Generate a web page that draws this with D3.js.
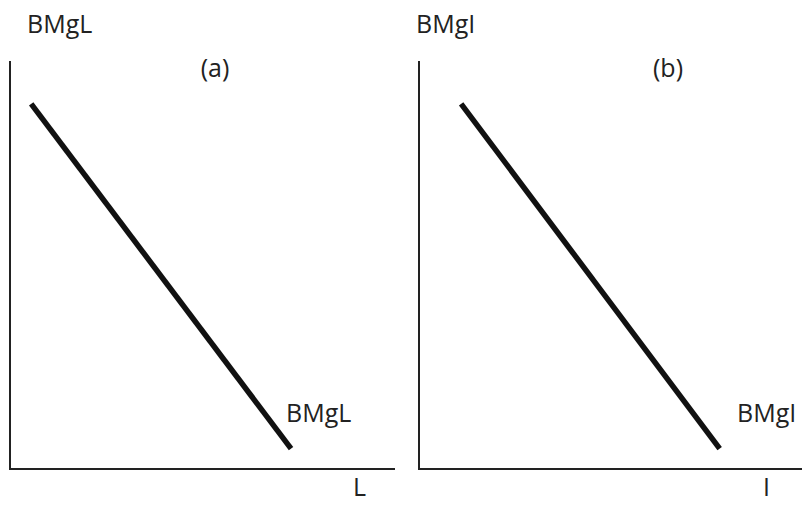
<!DOCTYPE html>
<html><head><meta charset="utf-8">
<script src="https://cdn.jsdelivr.net/npm/d3@7"></script>
<style>body{margin:0;background:#fff}svg{display:block}text{font-family:"Open Sans",sans-serif;fill:#222}</style>
</head><body><div id="c"></div>
<script>
// Panel data (stylised diagrams, axis units 0-10)
const panels = ["(a)", "(b)"];
const yTitles = ["BMgL", "BMgI"];
const xTitles = ["L", "I"];
const curveLabels = ["BMgL", "BMgI"];
const curveX = [[0.55, 7.3], [1.1, 7.85]];
const curveY = [[8.95, 0.5], [8.95, 0.5]];

const W = 802, H = 505;
const svg = d3.select("#c").append("svg").attr("width", W).attr("height", H);

const layouts = [
  {x0: 10, x1: 395},
  {x0: 419, x1: 802}
];
const yTop = 61, yBot = 469;
const fs = 25;

panels.forEach((p, i) => {
  const L = layouts[i];
  const x = d3.scaleLinear().domain([0, 10]).range([L.x0, L.x1]);
  const y = d3.scaleLinear().domain([0, 10]).range([yBot, yTop]);
  const g = svg.append("g");
  // axes
  g.append("path").attr("d", `M${x(0)},${y(10)}V${y(0)}H${x(10)}`)
    .attr("fill", "none").attr("stroke", "#222").attr("stroke-width", 2);
  // curve
  const pts = curveX[i].map((v, k) => [x(v), y(curveY[i][k])]);
  g.append("path").attr("d", d3.line()(pts))
    .attr("fill", "none").attr("stroke", "#111").attr("stroke-width", 5.5);
  // texts
  g.append("text").attr("x", i === 0 ? 27 : 416).attr("y", 33)
    .attr("font-size", fs).text(yTitles[i]);
  g.append("text").attr("x", i === 0 ? 215 : 668).attr("y", 77)
    .attr("text-anchor", "middle").attr("font-size", fs).text(p);
  g.append("text").attr("x", i === 0 ? 286 : 737).attr("y", 422)
    .attr("font-size", fs).text(curveLabels[i]);
  g.append("text").attr("x", i === 0 ? 353 : 763).attr("y", 496)
    .attr("font-size", fs).text(xTitles[i]);
});
</script></body></html>
